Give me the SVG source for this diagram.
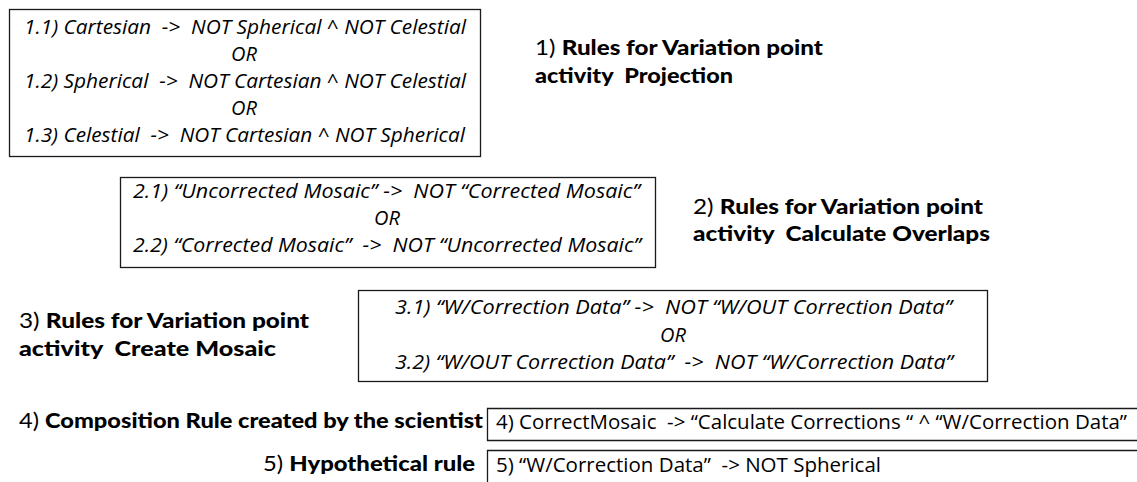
<svg xmlns="http://www.w3.org/2000/svg" width="1137" height="482" viewBox="0 0 1137 482">
  <style>
    text { white-space: pre; }
    .box { fill: #ffffff; stroke: #1a1a1a; stroke-width: 1.3; }
    .rule { font-family: "Open Sans", "Liberation Sans", sans-serif; font-style: italic; font-size: 20px; fill: #000; }
    .plain { font-family: "Open Sans", "Liberation Sans", sans-serif; font-size: 20px; fill: #000; }
    .head { font-family: "Lato", "DejaVu Sans", sans-serif; font-size: 21px; fill: #000; }
    .b { font-weight: 900; }
  </style>
  <rect width="1137" height="482" fill="#ffffff"/>

  <!-- Projection rules -->
  <g id="rules-projection">
    <rect class="box" x="9.5" y="9.5" width="471" height="147"/>
    <text class="rule" x="24" y="34" textLength="442" lengthAdjust="spacingAndGlyphs">1.1) Cartesian  -&gt;  NOT Spherical ^ NOT Celestial</text>
    <text class="rule" x="244" y="61" text-anchor="middle">OR</text>
    <text class="rule" x="24" y="88" textLength="442" lengthAdjust="spacingAndGlyphs">1.2) Spherical  -&gt;  NOT Cartesian ^ NOT Celestial</text>
    <text class="rule" x="244" y="115" text-anchor="middle">OR</text>
    <text class="rule" x="24" y="142" textLength="441" lengthAdjust="spacingAndGlyphs">1.3) Celestial  -&gt;  NOT Cartesian ^ NOT Spherical</text>
  </g>
  <g id="label-projection">
    <text class="head" x="535" y="55" textLength="288" lengthAdjust="spacingAndGlyphs">1) <tspan class="b">Rules for Variation point</tspan></text>
    <text class="head b" x="535" y="83" textLength="198" lengthAdjust="spacingAndGlyphs">activity  Projection</text>
  </g>

  <!-- Calculate Overlaps rules -->
  <g id="rules-overlaps">
    <rect class="box" x="120.5" y="177.5" width="535" height="90"/>
    <text class="rule" x="133" y="198" textLength="507" lengthAdjust="spacingAndGlyphs">2.1) “Uncorrected Mosaic” -&gt;  NOT “Corrected Mosaic”</text>
    <text class="rule" x="387" y="225" text-anchor="middle">OR</text>
    <text class="rule" x="133" y="252" textLength="508" lengthAdjust="spacingAndGlyphs">2.2) “Corrected Mosaic”  -&gt;  NOT “Uncorrected Mosaic”</text>
  </g>
  <g id="label-overlaps">
    <text class="head" x="693" y="214" textLength="290" lengthAdjust="spacingAndGlyphs">2) <tspan class="b">Rules for Variation point</tspan></text>
    <text class="head b" x="693" y="241" textLength="297" lengthAdjust="spacingAndGlyphs">activity  Calculate Overlaps</text>
  </g>

  <!-- Create Mosaic rules -->
  <g id="label-mosaic">
    <text class="head" x="19" y="328" textLength="290" lengthAdjust="spacingAndGlyphs">3) <tspan class="b">Rules for Variation point</tspan></text>
    <text class="head b" x="19" y="356" textLength="257" lengthAdjust="spacingAndGlyphs">activity  Create Mosaic</text>
  </g>
  <g id="rules-mosaic">
    <rect class="box" x="358.5" y="290.5" width="629" height="91"/>
    <text class="rule" x="395" y="314" textLength="557" lengthAdjust="spacingAndGlyphs">3.1) “W/Correction Data” -&gt;  NOT “W/OUT Correction Data”</text>
    <text class="rule" x="673" y="342" text-anchor="middle">OR</text>
    <text class="rule" x="395" y="369" textLength="558" lengthAdjust="spacingAndGlyphs">3.2) “W/OUT Correction Data”  -&gt;  NOT “W/Correction Data”</text>
  </g>

  <!-- Composition rule -->
  <g id="label-composition">
    <text class="head" x="19" y="428" textLength="464" lengthAdjust="spacingAndGlyphs">4) <tspan class="b">Composition Rule created by the scientist</tspan></text>
  </g>
  <g id="rule-composition">
    <path class="box" d="M1137 408.5 H487.5 V440.5 H1137"/>
    <text class="plain" x="496" y="429" textLength="631" lengthAdjust="spacingAndGlyphs">4) CorrectMosaic  -&gt; “Calculate Corrections “ ^ “W/Correction Data”</text>
  </g>

  <!-- Hypothetical rule -->
  <g id="label-hypothetical">
    <text class="head" x="263" y="471" textLength="212" lengthAdjust="spacingAndGlyphs">5) <tspan class="b">Hypothetical rule</tspan></text>
  </g>
  <g id="rule-hypothetical">
    <path class="box" d="M1137 450.5 H487.5 V482"/>
    <text class="plain" x="496" y="472" textLength="385" lengthAdjust="spacingAndGlyphs">5) “W/Correction Data”  -&gt; NOT Spherical</text>
  </g>

  <!-- no connectors in this figure -->
  <g id="connectors"/>
</svg>
